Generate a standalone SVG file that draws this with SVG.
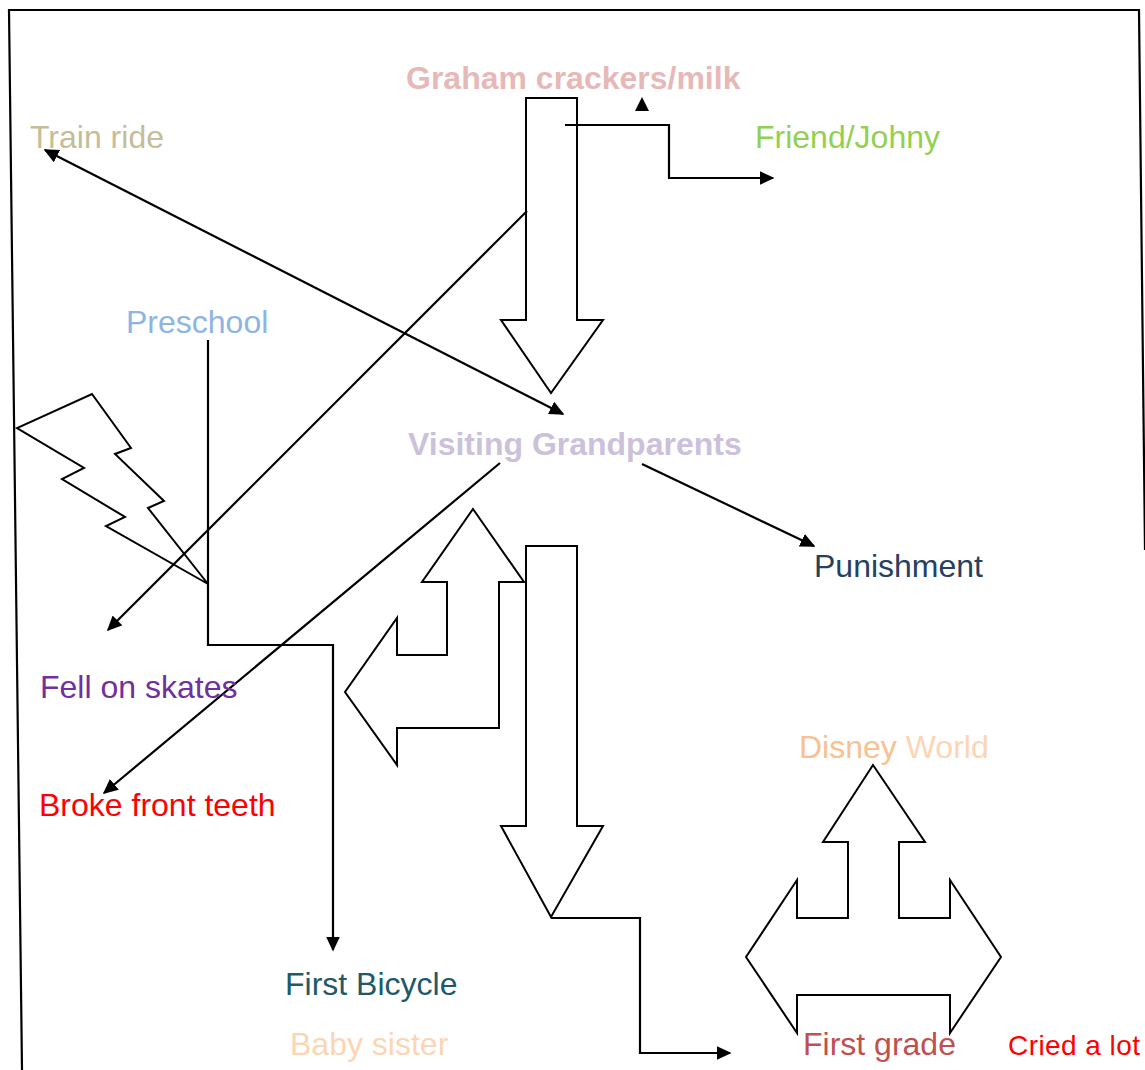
<svg xmlns="http://www.w3.org/2000/svg" width="1145" height="1070" viewBox="0 0 1145 1070">
<defs>
<marker id="ah" viewBox="0 0 10 10" refX="9" refY="5" markerWidth="15" markerHeight="14" markerUnits="userSpaceOnUse" orient="auto-start-reverse" preserveAspectRatio="none">
<path d="M0,0 L10,5 L0,10 z" fill="#000"/>
</marker>
<style>
text{font-family:"Liberation Sans",Arial,sans-serif;font-size:32px}
.b{font-weight:bold}
.sh{fill:#fff;stroke:#000;stroke-width:2;stroke-linejoin:miter}
.ln{fill:none;stroke:#000;stroke-width:2.2}
.ar{marker-end:url(#ah)}
</style>
</defs>
<rect width="1145" height="1070" fill="#fff"/>
<g id="frame" class="ln"><path d="M22,1070 L9,10 L1139,10 L1145,550"/></g>
<g id="shapes">
<polygon id="down1" class="sh" points="526,98 577,98 577,320 603,320 551,393 501,320 526,320"/>
<polygon id="down2" class="sh" points="526,546 577,546 577,826 603,826 551,917 501,826 526,826"/>
<polygon id="lightning" class="sh" points="92,394 131,448 115,454 164,501 148,508 208,584 106,526 125,517 62,479 84,468 17,428"/>
<polygon id="bent" class="sh" points="473,509 524,582 499,582 499,728 397,728 397,765 345,692 397,618 397,655 447,655 447,582 422,582"/>
<polygon id="tri" class="sh" points="873,765 925,842 899,842 899,918 950,918 950,880 1001,957 950,1033 950,995 797,995 797,1033 746,957 797,880 797,918 848,918 848,842 823,842"/>
<polygon id="smallhead" points="635,111 649,111 642,97" fill="#000"/>
</g>
<g id="connectors" class="ln">
<path class="ar" d="M565,125 L669,125 L669,178 L773,178"/>
<path d="M45,150 L563,414" marker-start="url(#ah)" marker-end="url(#ah)"/>
<path class="ar" d="M527,211 L108,630"/>
<path class="ar" d="M208,340 L208,645 L333,645 L333,950"/>
<path class="ar" d="M500,463 L104,793"/>
<path class="ar" d="M642,464 L814,546"/>
<path class="ar" d="M551,918 L640,918 L640,1053 L730,1053"/>
</g>
<g id="n-graham"><text class="b" x="406" y="89" fill="#E6B9B8">Graham crackers/milk</text></g>
<g id="n-friend"><text x="755" y="148" fill="#92D050">Friend/Johny</text></g>
<g id="n-train"><text x="30" y="148" fill="#C4BD97">Train ride</text></g>
<g id="n-preschool"><text x="126" y="333" fill="#8EB4E3">Preschool</text></g>
<g id="n-visiting"><text class="b" x="408" y="455" fill="#CCC1DA">Visiting Grandparents</text></g>
<g id="n-punishment"><text x="814" y="577" fill="#254061">Punishment</text></g>
<g id="n-fell"><text x="40" y="698" fill="#7030A0">Fell on skates</text></g>
<g id="n-broke"><text x="39" y="816" fill="#FF0000">Broke front teeth</text></g>
<g id="n-disney"><text x="799" y="758"><tspan fill="#FAC090">Disney </tspan><tspan fill="#FCD5B5">World</tspan></text></g>
<g id="n-bicycle"><text x="285" y="995" fill="#215968">First Bicycle</text></g>
<g id="n-baby"><text x="290" y="1055" fill="#FCD5B5">Baby sister</text></g>
<g id="n-firstgrade"><text x="803" y="1055" fill="#C0504D">First grade</text></g>
<g id="n-cried"><text x="1008" y="1055" fill="#FF0000" style="font-size:28px" textLength="132">Cried a lot</text></g>
</svg>
